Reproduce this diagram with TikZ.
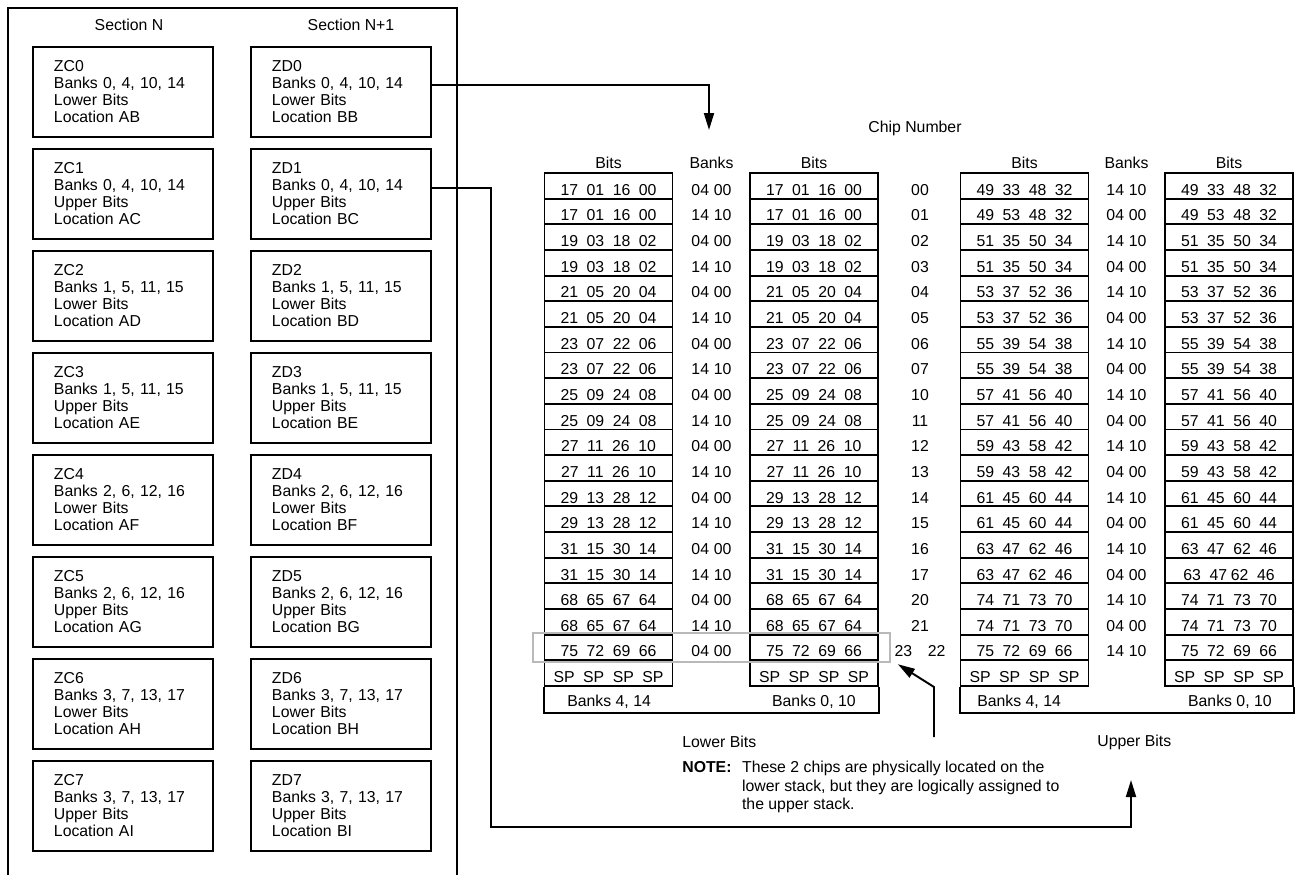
\documentclass[tikz,border=0pt]{standalone}
\usepackage{fontspec}
\setmainfont{Liberation Sans}
\usetikzlibrary{arrows.meta,positioning,calc,fit}
\newcommand\wordsp[1]{\spaceskip#1\relax}
\tikzset{
  txt/.style={inner sep=0pt,font=\fontsize{9}{10}\selectfont},
  secbox/.style={draw,line width=1.1pt,anchor=north west,minimum width=3.6cm,minimum height=1.8cm,
    text width=2.76cm,inner xsep=0.42cm,inner ysep=0pt,align=left,font=\fontsize{9}{9.65}\selectfont},
  bitcell/.style={draw,line width=1.1pt,minimum width=2.56cm,minimum height=0.513cm,inner sep=0pt,
    text height=10.8pt,text depth=0pt,font=\fontsize{9}{10}\selectfont\wordsp{0.54em}},
  bankcell/.style={minimum height=0.513cm,inner sep=0pt,text height=10.8pt,text depth=0pt,
    font=\fontsize{9}{10}\selectfont\wordsp{0.31em}},
  frame/.style={line width=1.1pt},
  hilite/.style={draw=gray!55,line width=1.1pt,inner xsep=0.22cm,inner ysep=0.02cm},
  arr/.style={-{Triangle[length=0.34cm,width=0.2cm]},line width=1.1pt}
}

\begin{document}
\begin{tikzpicture}[x=0.02cm,y=-0.02cm]
  \useasboundingbox (0,0) rectangle (1301,875);

  % Sections
  \draw[frame] (8,880) -- (8,8) -- (457,8) -- (457,880);
  \node[txt] (secn) at (129,25) {Section N};
  \node[txt] (secn1) at (351,25) {Section N+1};
  \foreach \k/\bk/\lh/\loc in {0/{0, 4, 10, 14}/Lower/B, 1/{0, 4, 10, 14}/Upper/C,
      2/{1, 5, 11, 15}/Lower/D, 3/{1, 5, 11, 15}/Upper/E,
      4/{2, 6, 12, 16}/Lower/F, 5/{2, 6, 12, 16}/Upper/G,
      6/{3, 7, 13, 17}/Lower/H, 7/{3, 7, 13, 17}/Upper/I} {
    \node[secbox] (zc\k) at (32,{46+102*\k}) {ZC\k\\Banks \bk\\\lh{} Bits\\Location A\loc};
    \node[secbox] (zd\k) at (250,{46+102*\k}) {ZD\k\\Banks \bk\\\lh{} Bits\\Location B\loc};
  }

  % Headers
  \node[txt] (chiphd) at (915,128) {Chip Number};
  \foreach \x/\t/\n in {608.5/Bits/hla, 711.5/Banks/hlb, 814/Bits/hlc,
      1024.5/Bits/hua, 1126.5/Banks/hub, 1229/Bits/huc}
    \node[txt] (\n) at (\x,163) {\t};

  % Rows
  \foreach \r/\lbits/\lbank/\ubits/\urbits/\ubank/\chip in {
      0/17 01 16 00/04 00/49 33 48 32/49 33 48 32/14 10/00,
      1/17 01 16 00/14 10/49 53 48 32/49 53 48 32/04 00/01,
      2/19 03 18 02/04 00/51 35 50 34/51 35 50 34/14 10/02,
      3/19 03 18 02/14 10/51 35 50 34/51 35 50 34/04 00/03,
      4/21 05 20 04/04 00/53 37 52 36/53 37 52 36/14 10/04,
      5/21 05 20 04/14 10/53 37 52 36/53 37 52 36/04 00/05,
      6/23 07 22 06/04 00/55 39 54 38/55 39 54 38/14 10/06,
      7/23 07 22 06/14 10/55 39 54 38/55 39 54 38/04 00/07,
      8/25 09 24 08/04 00/57 41 56 40/57 41 56 40/14 10/10,
      9/25 09 24 08/14 10/57 41 56 40/57 41 56 40/04 00/11,
      10/27 11 26 10/04 00/59 43 58 42/59 43 58 42/14 10/12,
      11/27 11 26 10/14 10/59 43 58 42/59 43 58 42/04 00/13,
      12/29 13 28 12/04 00/61 45 60 44/61 45 60 44/14 10/14,
      13/29 13 28 12/14 10/61 45 60 44/61 45 60 44/04 00/15,
      14/31 15 30 14/04 00/63 47 62 46/63 47 62 46/14 10/16,
      15/31 15 30 14/14 10/63 47 62 46/63 47\kern-0.3em{} 62 46/04 00/17,
      16/68 65 67 64/04 00/74 71 73 70/74 71 73 70/14 10/20,
      17/68 65 67 64/14 10/74 71 73 70/74 71 73 70/04 00/21,
      18/75 72 69 66/04 00/75 72 69 66/75 72 69 66/14 10/23\hspace{1em}22} {
    \node[bitcell] (ll\r) at (608.5,{185.8+25.65*\r}) {\lbits};
    \node[bankcell] (lk\r) at (711.5,{185.8+25.65*\r}) {\lbank};
    \node[bitcell] (lr\r) at (814,{185.8+25.65*\r}) {\lbits};
    \node[bankcell] (cn\r) at (920,{185.8+25.65*\r}) {\chip};
    \node[bitcell] (ul\r) at (1024.5,{185.8+25.65*\r}) {\ubits};
    \node[bankcell] (uk\r) at (1126.5,{185.8+25.65*\r}) {\ubank};
    \node[bitcell] (ur\r) at (1229,{185.8+25.65*\r}) {\urbits};
  }
  \foreach \c/\x in {ll/608.5, lr/814, ul/1024.5, ur/1229}
    \node[bitcell] (\c19) at (\x,673.15) {SP SP SP SP};

  % Bank rows
  \draw[frame] (ll19.south west) -- ++(0,26) -| (lr19.south east);
  \draw[frame] (ul19.south west) -- ++(0,26) -| (ur19.south east);
  \node[txt,anchor=west] (lbka) at (567,702) {Banks 4, 14};
  \node[txt,anchor=east] (lbkb) at (856,702) {Banks 0, 10};
  \node[txt,anchor=west] (ubka) at (977,702) {Banks 4, 14};
  \node[txt,anchor=east] (ubkb) at (1272,702) {Banks 0, 10};

  \node[txt,anchor=west] (lowlbl) at (682,742) {Lower Bits};
  \node[txt,anchor=west] (uplbl) at (1097,742) {Upper Bits};

  % Note
  \node[hilite,fit=(ll18) (lr18)] (hl) {};
  \node[txt,anchor=north west,font=\fontsize{9}{10.5}\selectfont] (note) at (682,759.5)
    {\begin{tabular}{@{}l@{\hspace{6pt}}l@{}}
      \textbf{NOTE:} & These 2 chips are physically located on the\\
      & lower stack, but they are logically assigned to\\
      & the upper stack.
    \end{tabular}};
  \coordinate (notetail) at (934,737);
  \draw[arr] (notetail) -- (934,687) -- ($(hl.south east)+(7,1)$);

  % Connectors
  \coordinate (lowin) at (709,130);
  \coordinate (upin) at (1131,780);
  \coordinate (bend) at (491,827);
  \draw[arr] ($(zd0.east)+(0,-7)$) -| (lowin);
  \draw[arr] ($(zd1.east)+(0,-6)$) -| (bend) -| (upin);
\end{tikzpicture}
\end{document}
